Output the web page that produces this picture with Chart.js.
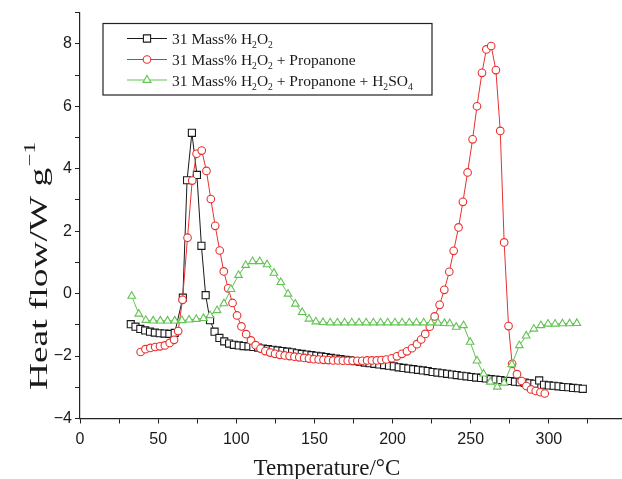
<!DOCTYPE html>
<html><head><meta charset="utf-8">
<script src="https://cdn.jsdelivr.net/npm/chart.js@4/dist/chart.umd.min.js"></script>
<style>
html,body{margin:0;padding:0;overflow:hidden;background:#fff;width:622px;height:479px;}
#wrap{position:relative;width:700px;height:479px;}
</style></head><body>
<div id="wrap"><canvas id="c" width="700" height="479"></canvas></div>
<script>
// ---- data ----
const blackT = [32.5,35.5,38.6,41.7,44.8,47.9,51.0,54.1,57.2,60.6,65.8,68.5,71.6,74.8,77.7,80.4,83.2,86.1,89.2,92.3,95.4,98.5,101.6,104.7,107.8,110.9,114.0,117.1,120.2,123.3,126.4,129.5,132.6,135.7,138.8,141.9,145.0,148.1,151.2,154.3,157.4,160.5,163.6,166.7,169.8,172.9,176.0,179.1,182.2,185.3,188.4,191.5,194.6,197.7,200.8,203.9,207.0,210.1,213.2,216.3,219.4,222.5,225.6,228.7,231.8,234.9,238.0,241.1,244.2,247.3,250.4,253.5,256.6,259.7,262.8,265.9,269.0,272.1,275.2,278.3,281.4,284.5,287.6,290.7,293.8,296.9,300.0,303.1,306.2,309.3,312.4,315.5,318.6,321.7];
const blackV = [-0.98,-1.06,-1.13,-1.18,-1.22,-1.25,-1.27,-1.28,-1.29,-1.26,-0.13,3.63,5.15,3.80,1.53,-0.05,-0.85,-1.22,-1.42,-1.53,-1.60,-1.64,-1.66,-1.68,-1.69,-1.71,-1.73,-1.76,-1.78,-1.80,-1.82,-1.84,-1.86,-1.88,-1.91,-1.93,-1.95,-1.97,-1.99,-2.01,-2.03,-2.06,-2.08,-2.10,-2.12,-2.14,-2.16,-2.18,-2.21,-2.23,-2.25,-2.27,-2.29,-2.31,-2.33,-2.36,-2.38,-2.40,-2.42,-2.44,-2.46,-2.48,-2.51,-2.53,-2.55,-2.57,-2.59,-2.61,-2.63,-2.65,-2.67,-2.69,-2.70,-2.72,-2.74,-2.75,-2.77,-2.79,-2.80,-2.82,-2.84,-2.85,-2.87,-2.89,-2.78,-2.92,-2.94,-2.95,-2.97,-2.99,-3.00,-3.02,-3.03,-3.05];

const redT = [38.8,41.9,45.0,48.1,51.2,54.3,57.4,60.2,62.8,65.6,68.8,71.8,74.6,77.9,80.9,83.7,86.5,89.4,92.0,94.8,97.6,100.5,103.3,106.3,109.4,112.4,115.5,118.6,121.7,124.8,127.9,131.0,134.1,137.2,140.3,143.4,146.5,149.6,152.7,155.8,158.9,162.0,165.1,168.2,171.3,174.4,177.5,180.6,183.7,186.8,189.9,192.9,196.0,199.5,202.8,206.0,209.2,212.4,215.6,218.3,220.9,223.8,226.9,230.1,233.1,236.3,239.1,242.2,245.0,248.0,251.2,254.0,257.2,260.0,263.1,266.1,268.9,271.4,274.2,276.5,279.6,282.6,285.6,288.6,291.6,294.6,297.4];
const redV = [-1.87,-1.78,-1.74,-1.71,-1.69,-1.66,-1.58,-1.48,-1.20,-0.20,1.79,3.62,4.48,4.58,3.93,3.03,2.17,1.38,0.71,0.17,-0.30,-0.70,-1.05,-1.30,-1.50,-1.65,-1.76,-1.84,-1.89,-1.93,-1.96,-1.98,-2.00,-2.02,-2.04,-2.06,-2.08,-2.10,-2.11,-2.12,-2.13,-2.14,-2.14,-2.15,-2.15,-2.15,-2.15,-2.15,-2.14,-2.14,-2.14,-2.13,-2.11,-2.07,-2.01,-1.93,-1.85,-1.75,-1.62,-1.47,-1.29,-1.06,-0.73,-0.36,0.12,0.70,1.37,2.12,2.94,3.88,4.94,6.00,7.07,7.82,7.93,7.16,5.21,1.64,-1.04,-2.25,-2.58,-2.80,-2.96,-3.07,-3.12,-3.16,-3.20];

const greenT = [33.1,37.6,42.1,46.8,51.4,56.0,60.6,65.2,69.8,74.4,79.0,83.2,87.7,92.1,96.6,101.4,106.0,110.4,115.0,119.7,124.1,128.5,133.1,137.8,142.2,146.5,150.9,155.5,160.1,164.7,169.3,173.9,178.5,183.1,187.7,192.3,196.9,201.5,206.1,210.7,215.3,219.9,224.5,229.1,233.2,236.6,240.7,245.4,249.6,254.0,258.2,262.5,267.0,271.4,276.3,281.1,285.5,290.4,294.9,299.5,304.0,308.7,313.3,317.9];
const greenV = [-0.08,-0.65,-0.85,-0.87,-0.87,-0.87,-0.87,-0.86,-0.84,-0.82,-0.79,-0.70,-0.54,-0.32,0.14,0.59,0.91,1.03,1.03,0.93,0.66,0.36,-0.01,-0.33,-0.60,-0.81,-0.90,-0.92,-0.93,-0.93,-0.93,-0.93,-0.93,-0.93,-0.93,-0.93,-0.93,-0.93,-0.93,-0.93,-0.93,-0.93,-0.93,-0.94,-0.95,-0.96,-1.07,-1.02,-1.55,-2.15,-2.57,-2.83,-2.99,-2.86,-2.27,-1.66,-1.35,-1.13,-1.02,-0.97,-0.97,-0.96,-0.96,-0.95];

const xTickLabels = [0,50,100,150,200,250,300];
const yTickLabels = [-4,-2,0,2,4,6,8];
const seriesNames = ['31 Mass% H2O2','31 Mass% H2O2 + Propanone','31 Mass% H2O2 + Propanone + H2SO4'];
const xTitle = 'Temperature/°C';
const yTitle = 'Heat flow/W g';

const BLACK = '#1a1a1a', RED = '#e8312f', GREEN = '#63c353';
const pts = (T, V) => T.map((t, i) => ({x: t, y: V[i]}));

const TICK_FONT = {family: '"Liberation Sans", Arial, sans-serif', size: 16};
const SERIF = '"Liberation Serif", "Times New Roman", serif';

const overlay = {
  id: 'overlay',
  afterDraw(chart) {
    const ctx = chart.ctx;
    ctx.save();
    // --- legend box ---
    ctx.strokeStyle = '#222'; ctx.lineWidth = 1.2;
    ctx.strokeRect(103, 23.5, 329, 71.5);
    const rows = [
      {y: 38.5, color: BLACK, shape: 'rect',
       segs: [['31 Mass% H'],['2',1],['O'],['2',1]]},
      {y: 59.5, color: RED, shape: 'circle',
       segs: [['31 Mass% H'],['2',1],['O'],['2',1],[' + Propanone']]},
      {y: 80, color: GREEN, shape: 'triangle',
       segs: [['31 Mass% H'],['2',1],['O'],['2',1],[' + Propanone + H'],['2',1],['SO'],['4',1]]}
    ];
    rows.forEach(r => {
      ctx.strokeStyle = r.color; ctx.lineWidth = 1;
      ctx.beginPath(); ctx.moveTo(127, r.y); ctx.lineTo(167, r.y); ctx.stroke();
      ctx.fillStyle = '#fff'; ctx.lineWidth = 1.1;
      ctx.beginPath();
      const cx = 147, cy = r.y;
      if (r.shape === 'rect') ctx.rect(cx - 3.6, cy - 3.6, 7.2, 7.2);
      else if (r.shape === 'circle') ctx.arc(cx, cy, 3.8, 0, Math.PI * 2);
      else { ctx.moveTo(cx, cy - 4.6); ctx.lineTo(cx + 4, cy + 2.4); ctx.lineTo(cx - 4, cy + 2.4); ctx.closePath(); }
      ctx.fill(); ctx.stroke();
      drawRich(ctx, 172, r.y + 5.5, r.segs, 15.5);
    });
    // --- axis titles ---
    ctx.fillStyle = '#1a1a1a';
    ctx.font = '23px ' + SERIF;
    ctx.textAlign = 'center'; ctx.textBaseline = 'alphabetic';
    ctx.fillText(xTitle, 327, 475);
    // y title rotated with superscript (elongated like the reference)
    ctx.save();
    ctx.translate(47, 266);
    ctx.rotate(-Math.PI / 2);
    ctx.textAlign = 'left';
    ctx.font = '26px ' + SERIF;
    const w1 = ctx.measureText(yTitle).width;
    ctx.font = '16px ' + SERIF;
    const w2 = ctx.measureText('\u22121').width;
    const natural = w1 + w2 + 1;
    const stretch = 248 / natural;
    ctx.scale(stretch, 1);
    const start = -natural / 2;
    ctx.font = '26px ' + SERIF;
    ctx.fillText(yTitle, start, 0);
    ctx.font = '16px ' + SERIF;
    ctx.fillText('\u22121', start + w1 + 1, -12);
    ctx.restore();
    ctx.restore();
  }
};

function drawRich(ctx, x, y, segs, size) {
  ctx.fillStyle = '#1a1a1a';
  ctx.textAlign = 'left'; ctx.textBaseline = 'alphabetic';
  segs.forEach(s => {
    const sub = s[1] === 1;
    const fs = sub ? size * 0.62 : size;
    ctx.font = fs + 'px ' + SERIF;
    ctx.fillText(s[0], x, sub ? y + 4 : y);
    x += ctx.measureText(s[0]).width;
  });
}

const commonPoint = {pointBackgroundColor: '#fff', pointBorderWidth: 1.1, borderWidth: 1, tension: 0, fill: false};

new Chart(document.getElementById('c'), {
  type: 'line',
  data: {
    datasets: [
      Object.assign({label: seriesNames[2], data: pts(greenT, greenV), borderColor: GREEN, pointBorderColor: GREEN,
        pointStyle: 'triangle', pointRadius: 4.4, order: 0}, commonPoint),
      Object.assign({label: seriesNames[1], data: pts(redT, redV), borderColor: RED, pointBorderColor: RED,
        pointStyle: 'circle', pointRadius: 3.8, order: 1}, commonPoint),
      Object.assign({label: seriesNames[0], data: pts(blackT, blackV), borderColor: BLACK, pointBorderColor: BLACK,
        pointStyle: 'rect', pointRadius: 5, order: 2}, commonPoint)
    ]
  },
  options: {
    responsive: false,
    devicePixelRatio: 1,
    animation: false,
    layout: {padding: {left: 0, right: 73, top: 11, bottom: 0}},
    plugins: {legend: {display: false}, tooltip: {enabled: false}},
    scales: {
      x: {
        type: 'linear', min: 0, max: 350,
        ticks: {stepSize: 25, autoSkip: false, maxRotation: 0, color: '#1a1a1a', font: TICK_FONT, padding: 6,
          callback: v => xTickLabels.includes(v) ? String(v) : ''},
        grid: {drawOnChartArea: false, drawTicks: true, tickLength: 5, color: '#222'},
        border: {display: true, color: '#222', width: 1.2},
        afterFit: s => { s.height = 60.5; }
      },
      y: {
        type: 'linear', min: -4, max: 9,
        ticks: {stepSize: 1, autoSkip: false, color: '#1a1a1a', font: TICK_FONT, padding: 3,
          callback: v => yTickLabels.includes(v) ? String(v).replace('-', '\u2212') : ''},
        grid: {drawOnChartArea: false, drawTicks: true, tickLength: 5, color: '#222'},
        border: {display: true, color: '#222', width: 1.2},
        afterFit: s => { s.width = 80; }
      }
    }
  },
  plugins: [overlay]
});
</script>
</body></html>
